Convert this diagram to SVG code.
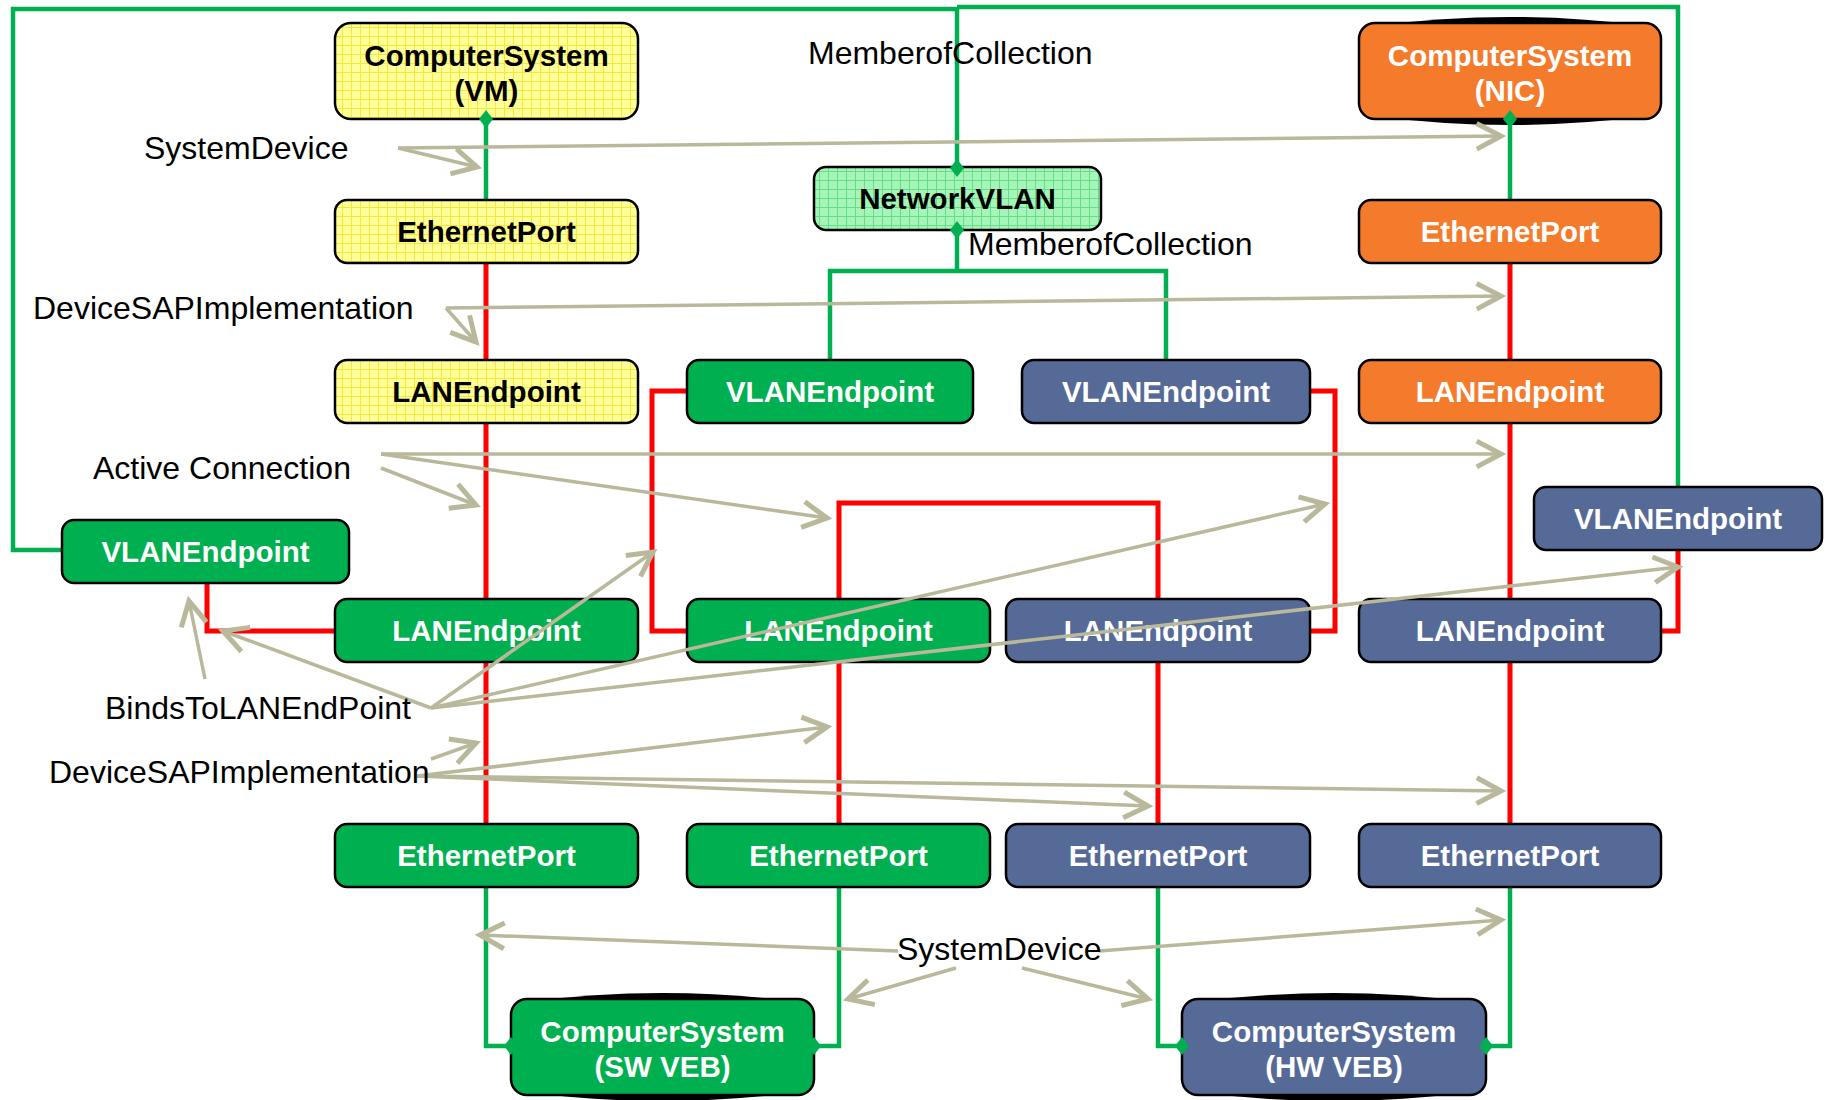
<svg xmlns="http://www.w3.org/2000/svg" width="1832" height="1100" viewBox="0 0 1832 1100">
<style>
.box{stroke:#000;stroke-width:2.5}
.g{fill:#00B050}
.b{fill:#566A98}
.o{fill:#F57B2C}
.y{fill:url(#yel)}
.lg{fill:url(#lgr)}
.t{font-family:"Liberation Sans",Arial,sans-serif;font-weight:bold;font-size:29.5px;text-anchor:middle}
.w{fill:#fff}
.k{fill:#000}
.lbl{font-family:"Liberation Sans",Arial,sans-serif;font-size:32px;fill:#000}
.gl{fill:none;stroke:#00B050;stroke-width:4.5}
.rl{fill:none;stroke:#FF0000;stroke-width:5}
.al{fill:none;stroke:#B9B89A;stroke-width:3.5;marker-end:url(#arr)}
.dm{fill:#00B050}
.sh{fill:#000}
</style>
<defs>
<pattern id="yel" width="9" height="9" patternUnits="userSpaceOnUse">
<rect width="9" height="9" fill="#FFFF99"/>
<path d="M0,0.5H9M0.5,0V9" stroke="#F5E83A" stroke-width="1"/>
</pattern>
<pattern id="lgr" width="9" height="9" patternUnits="userSpaceOnUse">
<rect width="9" height="9" fill="#A6F5B8"/>
<path d="M0,0.5H9M0.5,0V9" stroke="#66DD88" stroke-width="1"/>
</pattern>
<marker id="arr" markerUnits="userSpaceOnUse" markerWidth="40" markerHeight="40" refX="0" refY="0" viewBox="-22 -14 26 28" orient="auto" overflow="visible">
<path d="M-17,-9 L0,0 L-17,9" fill="none" stroke="#B9B89A" stroke-width="3.5"/>
</marker>
<path id="dia" d="M0,-9 L7,0 L0,9 L-7,0Z"/>
</defs>

<g id="connectors">
<path class="gl" d="M62,550 H13 V9 H957 V168"/>
<path class="gl" d="M957,7 H1678 V487"/>
<path class="gl" d="M957,230 V271"/>
<path class="gl" d="M830,360 V271 H1166 V360"/>
<path class="gl" d="M486,119 V200"/>
<path class="gl" d="M1510,119 V200"/>
<path class="gl" d="M486,887 V1046 H511"/>
<path class="gl" d="M839,887 V1046 H814"/>
<path class="gl" d="M1158,887 V1046 H1182"/>
<path class="gl" d="M1510,887 V1046 H1486"/>
<path class="rl" d="M486,263 V360"/>
<path class="rl" d="M486,423 V599"/>
<path class="rl" d="M486,662 V824"/>
<path class="rl" d="M335,631 H207 V583"/>
<path class="rl" d="M687,391 H652 V631 H687"/>
<path class="rl" d="M839,599 V503 H1158 V599"/>
<path class="rl" d="M1310,391 H1335 V631 H1310"/>
<path class="rl" d="M1510,263 V360"/>
<path class="rl" d="M1510,423 V599"/>
<path class="rl" d="M1510,662 V824"/>
<path class="rl" d="M1678,550 V631 H1661"/>
<path class="rl" d="M839,662 V824"/>
<path class="rl" d="M1158,662 V824"/>
</g>

<g id="cs-vm">
<rect class="box y" x="335" y="23" width="303" height="96" rx="16"/>
<text class="t k" x="486.5" y="66">ComputerSystem</text>
<text class="t k" x="486.5" y="101">(VM)</text>
</g>
<g id="eth-vm">
<rect class="box y" x="335" y="200" width="303" height="63" rx="12"/>
<text class="t k" x="486.5" y="242">EthernetPort</text>
</g>
<g id="lan-vm">
<rect class="box y" x="335" y="360" width="303" height="63" rx="12"/>
<text class="t k" x="486.5" y="402">LANEndpoint</text>
</g>
<g id="networkvlan">
<rect class="box lg" x="814" y="167" width="287" height="63" rx="12"/>
<text class="t k" x="957.5" y="209">NetworkVLAN</text>
</g>
<g id="cs-nic">
<path class="sh" d="M1374,26 Q1510,8 1646,26 L1646,116 Q1510,134 1374,116Z"/>
<rect class="box o" x="1359" y="23" width="302" height="96" rx="16"/>
<text class="t w" x="1510" y="66">ComputerSystem</text>
<text class="t w" x="1510" y="101">(NIC)</text>
</g>
<g id="eth-nic">
<rect class="box o" x="1359" y="200" width="302" height="63" rx="12"/>
<text class="t w" x="1510" y="242">EthernetPort</text>
</g>
<g id="lan-nic">
<rect class="box o" x="1359" y="360" width="302" height="63" rx="12"/>
<text class="t w" x="1510" y="402">LANEndpoint</text>
</g>
<g id="vlan-green-mid">
<rect class="box g" x="687" y="360" width="286" height="63" rx="12"/>
<text class="t w" x="830" y="402">VLANEndpoint</text>
</g>
<g id="vlan-blue-mid">
<rect class="box b" x="1022" y="360" width="288" height="63" rx="12"/>
<text class="t w" x="1166" y="402">VLANEndpoint</text>
</g>
<g id="vlan-green-left">
<rect class="box g" x="62" y="520" width="287" height="63" rx="12"/>
<text class="t w" x="205.5" y="562">VLANEndpoint</text>
</g>
<g id="vlan-blue-right">
<rect class="box b" x="1534" y="487" width="288" height="63" rx="12"/>
<text class="t w" x="1678" y="529">VLANEndpoint</text>
</g>
<g id="lan-green-1">
<rect class="box g" x="335" y="599" width="303" height="63" rx="12"/>
<text class="t w" x="486.5" y="641">LANEndpoint</text>
</g>
<g id="lan-green-2">
<rect class="box g" x="687" y="599" width="303" height="63" rx="12"/>
<text class="t w" x="838.5" y="641">LANEndpoint</text>
</g>
<g id="lan-blue-3">
<rect class="box b" x="1006" y="599" width="304" height="63" rx="12"/>
<text class="t w" x="1158" y="641">LANEndpoint</text>
</g>
<g id="lan-blue-4">
<rect class="box b" x="1359" y="599" width="302" height="63" rx="12"/>
<text class="t w" x="1510" y="641">LANEndpoint</text>
</g>
<g id="eth-green-1">
<rect class="box g" x="335" y="824" width="303" height="63" rx="12"/>
<text class="t w" x="486.5" y="866">EthernetPort</text>
</g>
<g id="eth-green-2">
<rect class="box g" x="687" y="824" width="303" height="63" rx="12"/>
<text class="t w" x="838.5" y="866">EthernetPort</text>
</g>
<g id="eth-blue-3">
<rect class="box b" x="1006" y="824" width="304" height="63" rx="12"/>
<text class="t w" x="1158" y="866">EthernetPort</text>
</g>
<g id="eth-blue-4">
<rect class="box b" x="1359" y="824" width="302" height="63" rx="12"/>
<text class="t w" x="1510" y="866">EthernetPort</text>
</g>
<g id="cs-swveb">
<path class="sh" d="M526,1002 Q662,984 799,1002 L799,1092 Q662,1110 526,1092Z"/>
<rect class="box g" x="511" y="999" width="303" height="96" rx="16"/>
<text class="t w" x="662.5" y="1042">ComputerSystem</text>
<text class="t w" x="662.5" y="1077">(SW VEB)</text>
</g>
<g id="cs-hwveb">
<path class="sh" d="M1197,1002 Q1334,984 1471,1002 L1471,1092 Q1334,1110 1197,1092Z"/>
<rect class="box b" x="1182" y="999" width="304" height="96" rx="16"/>
<text class="t w" x="1334" y="1042">ComputerSystem</text>
<text class="t w" x="1334" y="1077">(HW VEB)</text>
</g>

<g id="diamonds">
<use href="#dia" class="dm" x="957" y="168"/>
<use href="#dia" class="dm" x="957" y="230"/>
<use href="#dia" class="dm" x="486" y="119"/>
<use href="#dia" class="dm" x="1510" y="119"/>
<use href="#dia" class="dm" x="511" y="1046"/>
<use href="#dia" class="dm" x="814" y="1046"/>
<use href="#dia" class="dm" x="1182" y="1046"/>
<use href="#dia" class="dm" x="1486" y="1046"/>
</g>

<g id="annotations">
<path class="al" d="M398,148 L477,167"/>
<path class="al" d="M398,148 L1501,136"/>
<path class="al" d="M446,308 L476,342"/>
<path class="al" d="M446,308 L1501,296"/>
<path class="al" d="M381,454 L1501,454"/>
<path class="al" d="M381,454 L827,518"/>
<path class="al" d="M381,468 L476,505"/>
<path class="al" d="M205,679 L189,601"/>
<path class="al" d="M431,708 L223,631"/>
<path class="al" d="M431,708 L653,552"/>
<path class="al" d="M431,708 L1325,504"/>
<path class="al" d="M431,708 L1678,567"/>
<path class="al" d="M431,759 L476,743"/>
<path class="al" d="M417,776 L827,727"/>
<path class="al" d="M417,776 L1148,806"/>
<path class="al" d="M417,776 L1501,791"/>
<path class="al" d="M898,951 L480,935"/>
<path class="al" d="M1099,951 L1501,920"/>
<path class="al" d="M956,968 L848,999"/>
<path class="al" d="M1022,968 L1148,999"/>
<text class="lbl" x="808" y="64">MemberofCollection</text>
<text class="lbl" x="968" y="255">MemberofCollection</text>
<text class="lbl" x="144" y="159">SystemDevice</text>
<text class="lbl" x="33" y="319">DeviceSAPImplementation</text>
<text class="lbl" x="93" y="479">Active Connection</text>
<text class="lbl" x="105" y="719">BindsToLANEndPoint</text>
<text class="lbl" x="49" y="783">DeviceSAPImplementation</text>
<text class="lbl" x="897" y="960">SystemDevice</text>
</g>
</svg>
